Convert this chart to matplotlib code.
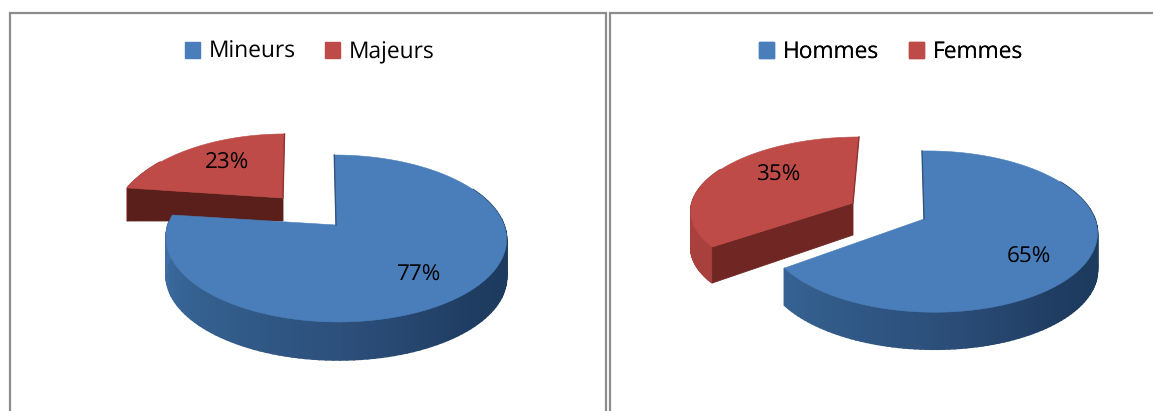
import numpy as np
import matplotlib
matplotlib.use('Agg')
import matplotlib.pyplot as plt
from matplotlib.patches import Patch

# chart values
LEFT_LABELS = ['Mineurs', 'Majeurs']
LEFT_SHARES = [77, 23]
RIGHT_LABELS = ['Hommes', 'Femmes']
RIGHT_SHARES = [65, 35]

BLUE = '#4A7EBB'
RED = '#BE4B48'
BLUE_WALL = ['#3F6FA8', '#34608F', '#2D507C', '#1F3C61', '#1A3A5C']
RED_WALL = ['#A8413E', '#A8413E']
LINE = '#8C8C8C'
FONT = 'Open Sans'

plt.rcParams['font.family'] = FONT
plt.rcParams['text.hinting'] = 'none'

# projection of each slice: apex, radii, perspective, depth at apex and rim (pixels)
LEFT_VIEW = [
    dict(x0=336, y0=225, a=168, b=81.3, k=0.1615, m=0, s=-2, c0=32, c1=38, front='#2F5585'),
    dict(x0=283, y0=198, a=163, b=83, k=0.296, m=0, s=2, c0=23, c1=33, front='#5A1F1A'),
]
RIGHT_VIEW = [
    dict(x0=924, y0=219, a=164, b=78.6, k=0.156, m=-0.04, s=-2.3, c0=32, c1=37, front='#2F5585'),
    dict(x0=853, y0=203, a=161, b=71.3, k=0.08, m=0, s=6.5, c0=32, c1=36, front='#702724'),
]


def project(view, theta, r=1.0, h=0.0):
    t = np.radians(theta)
    u, v = r * np.sin(t), r * np.cos(t)
    w = 1 + view['k'] * v + view['m'] * u
    x = view['x0'] + (view['a'] * u + view['s'] * v) / w
    y = view['y0'] - view['b'] * v / w + (view['c0'] + (view['c1'] - view['c0']) * r) * h
    return x, y


def wall_colour(colours, f):
    rgb = np.array([matplotlib.colors.to_rgb(c) for c in colours])
    pos = np.linspace(0, 1, len(colours))
    return [np.interp(f, pos, rgb[:, i]) for i in range(3)]


def draw_slice(ax, view, start, stop, top, wall, front_wall):
    theta = np.linspace(start, stop, 140)
    # rim wall, the back part stays hidden under the top face
    for t1, t2 in zip(theta[:-1], theta[1:]):
        if t1 < 60 or t2 > 300:
            continue
        x1, y1 = project(view, t1)
        x2, y2 = project(view, t2)
        x3, y3 = project(view, t2, h=1)
        x4, y4 = project(view, t1, h=1)
        f = np.clip((270 - t1) / 180, 0, 1)
        c = wall_colour(wall, f)
        ax.fill([x1, x2, x3, x4], [y1, y2, y3, y4], color=c, lw=1.2, zorder=2)
    # cut face towards the viewer
    if front_wall:
        xa, ya = project(view, start, r=0)
        xb, yb = project(view, start, r=0, h=1)
        xc, yc = project(view, start, h=1)
        xd, yd = project(view, start)
        ax.fill([xa, xb, xc, xd], [ya, yb, yc, yd], color=view['front'], lw=0.6, zorder=3)
    xs, ys = project(view, theta)
    xa, ya = project(view, start, r=0)
    ax.fill(np.r_[xa, xs], np.r_[ya, ys], color=top, lw=0.4, zorder=4)
    # dark seam on the far cut
    if front_wall:
        xe, ye = project(view, stop)
        ax.plot([xa, xe], [ya, ye], color='#8E3431', lw=1, zorder=5)
    else:
        xe, ye = project(view, start)
        ax.plot([xa, xe], [ya, ye], color='#34547C', lw=1, zorder=5)


def draw_pie(ax, shares, views, labels, label_pos, legend_xy):
    start = 0
    drawn = []
    for share, view, col, wall in zip(shares, views, [BLUE, RED], [BLUE_WALL, RED_WALL]):
        stop = start + share * 3.6
        drawn.append((view, start, stop, col, wall))
        start = stop
    for view, a0, a1, col, wall in reversed(drawn):
        draw_slice(ax, view, a0, a1, col, wall, col == RED)
    for share, (x, y) in zip(shares, label_pos):
        ax.text(x, y, '%d%%' % share, ha='center', va='center', fontsize=16.2, color='black', zorder=6)
    handles = [Patch(color=BLUE, label=labels[0]), Patch(color=RED, label=labels[1])]
    leg = ax.legend(handles=handles, ncol=2, loc='center', bbox_to_anchor=legend_xy,
                    bbox_transform=ax.transData, frameon=False, fontsize=16.4,
                    handlelength=0.66, handleheight=0.66, handletextpad=0.38, columnspacing=1.3)
    ax.add_artist(leg)


fig = plt.figure(figsize=(11.53, 4.11), dpi=100)
ax = fig.add_axes([0, 0, 1, 1])
ax.set_xlim(0, 1153)
ax.set_ylim(411, 0)
ax.axis('off')

# panel frames, open at the bottom and at the far right
ax.plot([10, 10, 606, 606], [411, 13, 13, 411], color=LINE, lw=1.6, solid_joinstyle='miter')
ax.plot([610, 610, 1153], [411, 13, 13], color=LINE, lw=1.6, solid_joinstyle='miter')

draw_pie(ax, LEFT_SHARES, LEFT_VIEW, LEFT_LABELS, [(419, 275), (227, 163)], (310, 52))
draw_pie(ax, RIGHT_SHARES, RIGHT_VIEW, RIGHT_LABELS, [(1029, 257), (779, 175)], (891, 52))

fig.savefig('out.png', dpi=100)
